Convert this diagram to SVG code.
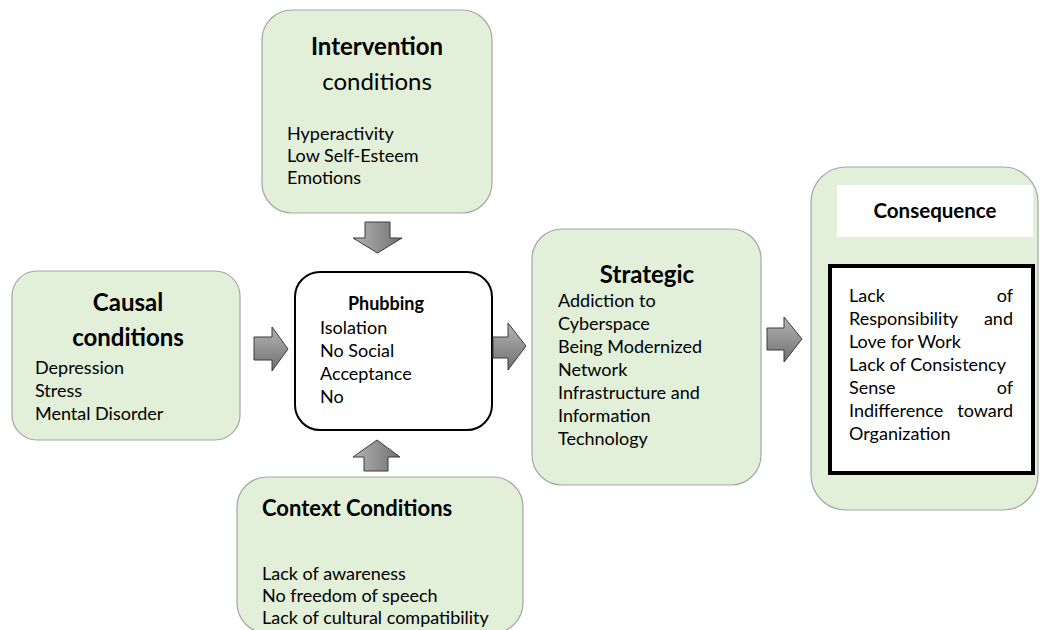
<svg xmlns="http://www.w3.org/2000/svg" width="1040" height="630" viewBox="0 0 1040 630">
  <defs>
    <linearGradient id="arrowFillH" x1="0" y1="0" x2="0" y2="1">
      <stop offset="0" stop-color="#b4b4b4"/>
      <stop offset="1" stop-color="#707070"/>
    </linearGradient>
    <linearGradient id="arrowFillV" x1="0" y1="0" x2="1" y2="0">
      <stop offset="0" stop-color="#b4b4b4"/>
      <stop offset="1" stop-color="#707070"/>
    </linearGradient>
    <style>
      .green { fill: #e2efd9; stroke: #a6a6a6; stroke-width: 1.2; }
      .white { fill: #ffffff; stroke: #000000; stroke-width: 2; }
      .t { font-family: Lato, "Liberation Sans", sans-serif; fill: #000000; }
      .item { font-size: 18px; }
      .head { font-size: 24px; font-weight: bold; }
      .arrowH { fill: url(#arrowFillH); stroke: #3a3a3a; stroke-width: 1; stroke-linejoin: miter; }
      .arrowV { fill: url(#arrowFillV); stroke: #3a3a3a; stroke-width: 1; stroke-linejoin: miter; }
    </style>
  </defs>
  <rect width="1040" height="630" fill="#ffffff"/>

  <!-- Intervention conditions -->
  <g id="intervention">
    <rect class="green" x="262" y="10" width="230" height="203" rx="30"/>
    <text class="t head" x="377" y="55" text-anchor="middle">Intervention</text>
    <text class="t" x="377" y="90" text-anchor="middle" font-size="24">conditions</text>
    <text class="t item" x="287" y="140">Hyperactivity</text>
    <text class="t item" x="287" y="162">Low Self-Esteem</text>
    <text class="t item" x="287" y="184">Emotions</text>
  </g>

  <!-- Causal conditions -->
  <g id="causal">
    <rect class="green" x="12" y="271" width="228" height="169" rx="25"/>
    <text class="t head" x="128" y="311" text-anchor="middle">Causal</text>
    <text class="t head" x="128" y="346" text-anchor="middle">conditions</text>
    <text class="t item" x="35" y="374">Depression</text>
    <text class="t item" x="35" y="397">Stress</text>
    <text class="t item" x="35" y="420">Mental Disorder</text>
  </g>

  <!-- Phubbing (core category) -->
  <g id="phubbing">
    <rect class="white" x="295" y="272" width="197" height="158" rx="25"/>
    <text class="t" x="386" y="310" text-anchor="middle" font-size="18" font-weight="bold">Phubbing</text>
    <text class="t item" x="320" y="334">Isolation</text>
    <text class="t item" x="320" y="357">No Social</text>
    <text class="t item" x="320" y="380">Acceptance</text>
    <text class="t item" x="320" y="403">No</text>
  </g>

  <!-- Strategic -->
  <g id="strategic">
    <rect class="green" x="532" y="229" width="229" height="256" rx="30"/>
    <text class="t head" x="647" y="283" text-anchor="middle">Strategic</text>
    <text class="t item" x="558" y="307">Addiction to</text>
    <text class="t item" x="558" y="330">Cyberspace</text>
    <text class="t item" x="558" y="353">Being Modernized</text>
    <text class="t item" x="558" y="376">Network</text>
    <text class="t item" x="558" y="399">Infrastructure and</text>
    <text class="t item" x="558" y="422">Information</text>
    <text class="t item" x="558" y="445">Technology</text>
  </g>

  <!-- Consequence -->
  <g id="consequence">
    <rect class="green" x="811" y="167" width="227" height="343" rx="35"/>
    <rect x="837" y="185" width="196" height="52" fill="#ffffff"/>
    <text class="t" x="935" y="218" text-anchor="middle" font-size="20.5" font-weight="bold">Consequence</text>
    <rect x="830" y="266" width="203" height="207" fill="#ffffff" stroke="#000000" stroke-width="4"/>
    <text class="t item" x="849" y="302">Lack</text>
    <text class="t item" x="1013" y="302" text-anchor="end">of</text>
    <text class="t item" x="849" y="325">Responsibility</text>
    <text class="t item" x="1013" y="325" text-anchor="end">and</text>
    <text class="t item" x="849" y="348">Love for Work</text>
    <text class="t item" x="849" y="371">Lack of Consistency</text>
    <text class="t item" x="849" y="394">Sense</text>
    <text class="t item" x="1013" y="394" text-anchor="end">of</text>
    <text class="t item" x="849" y="417">Indifference</text>
    <text class="t item" x="1013" y="417" text-anchor="end">toward</text>
    <text class="t item" x="849" y="440">Organization</text>
  </g>

  <!-- Context conditions -->
  <g id="context">
    <rect class="green" x="237" y="477" width="286" height="156" rx="30"/>
    <text class="t" x="262" y="516" font-size="22" font-weight="bold">Context Conditions</text>
    <text class="t item" x="262" y="580">Lack of awareness</text>
    <text class="t item" x="262" y="602">No freedom of speech</text>
    <text class="t item" x="262" y="624">Lack of cultural compatibility</text>
  </g>

  <!-- Block arrows -->
  <g id="connectors">
    <polygon class="arrowV" points="365,222 390,222 390,238 402,238 377.5,253 353,238 365,238"/>
    <polygon class="arrowH" points="254,337 272,337 272,327 288,349 272,371 272,360 254,360"/>
    <polygon class="arrowH" points="493,337 508,337 508,323 526,346 508,370 508,358 493,358"/>
    <polygon class="arrowH" points="767,328 784,328 784,317 802,339 784,362 784,350 767,350"/>
    <polygon class="arrowV" points="364,471 388,471 388,457 400,457 377,440 353,457 364,457"/>
  </g>
</svg>
